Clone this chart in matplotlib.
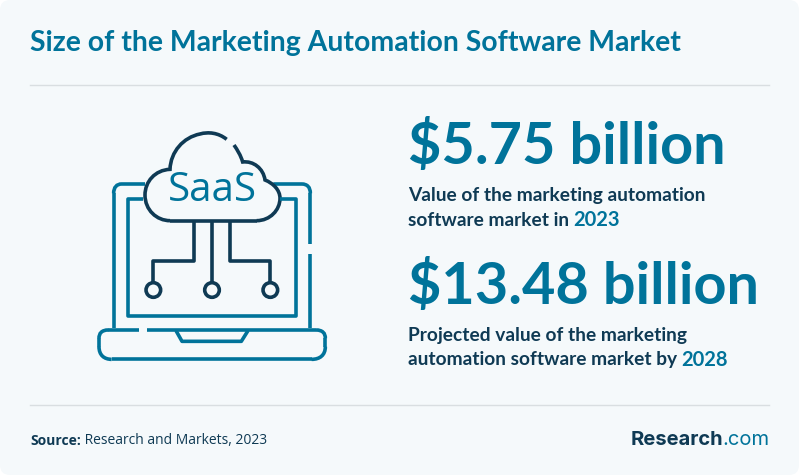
#!/usr/bin/env python

import matplotlib
matplotlib.use('Agg')
import matplotlib.pyplot as plt
from matplotlib.patches import FancyBboxPatch, PathPatch, Circle
from matplotlib.path import Path

title = 'Size of the Marketing Automation Software Market'
values = ['$5.75 billion', '$13.48 billion']
desc_first = ['Value of the marketing automation', 'Projected value of the marketing']
desc_second = ['software market in', 'automation software market by']
years = ['2023', '2028']
source_label = 'Source:'
source_text = ' Research and Markets, 2023'

TEAL = '#00739a'
NAVY = '#0f3a54'
BG = '#f5f9fb'
RULE = '#d9dee1'
plt.rcParams['font.family'] = ['Lato', 'DejaVu Sans']

fig = plt.figure(figsize=(7.99, 4.75), dpi=100, facecolor='white')
ax = fig.add_axes([0, 0, 1, 1])
ax.set_xlim(0, 799)
ax.set_ylim(475, 0)
ax.axis('off')

ax.add_patch(FancyBboxPatch((0, 0), 799, 475, boxstyle='round,pad=0,rounding_size=10',
                            fc=BG, ec='none', mutation_aspect=1))
ax.plot([30, 769], [85, 85], color=RULE, lw=1)
ax.plot([30, 769], [405, 405], color=RULE, lw=1)

ax.text(30, 43, title, color=TEAL, fontsize=20.4, fontweight='bold', va='center')


def zp(zx, zy):
    return 80 + zx / 3, 120 + zy / 3


def stroke(points, color=TEAL, lw=2.6):
    xs, ys = zip(*[zp(*p) for p in points])
    ax.plot(xs, ys, color=color, lw=lw, solid_capstyle='butt', solid_joinstyle='round')


def curve(verts, color=NAVY, lw=2.6):
    pts = [zp(*v) for v in verts]
    codes = [Path.MOVETO] + [Path.CURVE4] * (len(pts) - 1)
    ax.add_patch(PathPatch(Path(pts, codes), fc='none', ec=color, lw=lw, capstyle='butt'))


# laptop lid
curve([(195, 192), (170, 192), (150, 192), (125, 192), (110, 192), (101, 202), (101, 220)], TEAL)
stroke([(101, 220), (101, 625)])
curve([(580, 192), (600, 192), (640, 192), (665, 192), (682, 192), (691, 202), (691, 220)], TEAL)
stroke([(691, 220), (691, 373)])
stroke([(691, 402), (691, 625)])
stroke([(190, 236), (143, 236), (143, 588), (648, 588), (648, 236), (600, 236)])

# laptop base
stroke([(178, 630), (85, 630)])
curve([(85, 630), (65, 630), (57, 640), (57, 655)], TEAL)
stroke([(57, 655), (57, 680)])
curve([(57, 680), (57, 705), (72, 718), (95, 718)], TEAL)
stroke([(95, 718), (695, 718)])
curve([(695, 718), (720, 718), (736, 705), (736, 680)], TEAL)
stroke([(736, 680), (736, 655)])
curve([(736, 655), (736, 640), (728, 630), (708, 630)], TEAL)
stroke([(708, 630), (202, 630)])
stroke([(288, 632), (306, 664), (484, 664), (504, 632)])

# cloud
curve([(440, 58), (415, 38), (385, 35), (360, 42), (310, 52), (272, 95), (270, 148),
       (225, 150), (195, 185), (195, 225), (195, 270), (230, 302), (270, 302)])
stroke([(270, 302), (530, 302)], NAVY)
curve([(530, 302), (570, 302), (600, 270), (600, 235), (600, 210), (580, 190), (555, 180),
       (550, 145), (520, 122), (488, 126), (482, 105), (472, 90), (462, 75)])

# wires
stroke([(343, 302), (343, 422), (220, 422), (220, 488)], NAVY)
stroke([(396, 302), (396, 488)], NAVY)
stroke([(450, 302), (450, 422), (571, 422), (571, 488)], NAVY)
for zx in (220, 396, 571):
    ax.add_patch(Circle(zp(zx, 510), 7.3, fc='none', ec=NAVY, lw=2.6))

ax.text(*zp(396, 212), 'SaaS', color=TEAL, fontsize=29, family='Open Sans', ha='center', va='center')

# stat blocks
value_y = [147, 287]
line_y = [[196, 220], [336, 360]]
for i in range(2):
    ax.text(408, value_y[i], values[i], color=TEAL, fontsize=41.5, fontweight='bold', va='center')
    ax.text(408, line_y[i][0], desc_first[i], color=NAVY, fontsize=13.8, fontweight='bold', va='center')
    t = ax.text(408, line_y[i][1], desc_second[i], color=NAVY, fontsize=13.8, fontweight='bold', va='center')
    bb = t.get_window_extent(fig.canvas.get_renderer())
    ax.text(bb.x1 + 4, line_y[i][1], years[i], color=TEAL, fontsize=14.5, fontweight='bold', va='center')

# footer
s = ax.text(30, 441, source_label, color=NAVY, fontsize=10, fontweight='bold', family='Open Sans', va='center')
bb = s.get_window_extent(fig.canvas.get_renderer())
ax.text(bb.x1, 441, source_text, color=NAVY, fontsize=10, family='Open Sans', va='center')
ax.text(723, 440, 'Research', color=NAVY, fontsize=14.5, fontweight='bold', family='Inter', ha='right', va='center')
ax.text(722, 440, '.com', color=TEAL, fontsize=14.5, family='Inter', ha='left', va='center')

fig.savefig('out.png', dpi=100, facecolor='white')
